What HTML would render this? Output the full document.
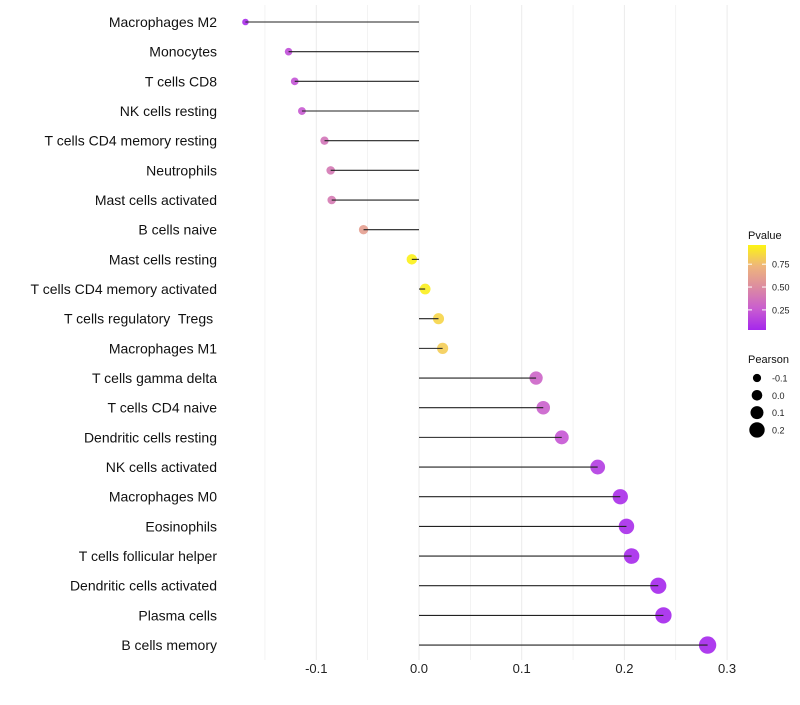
<!DOCTYPE html>
<html><head><meta charset="utf-8"><style>
body{margin:0;background:#fff;font-family:"Liberation Sans",sans-serif}
text{white-space:pre}
</style></head><body>
<svg id="chart" width="800" height="700" xmlns="http://www.w3.org/2000/svg"></svg>
<script>
const categories=["Macrophages M2","Monocytes","T cells CD8","NK cells resting","T cells CD4 memory resting","Neutrophils","Mast cells activated","B cells naive","Mast cells resting","T cells CD4 memory activated","T cells regulatory  Tregs ","Macrophages M1","T cells gamma delta","T cells CD4 naive","Dendritic cells resting","NK cells activated","Macrophages M0","Eosinophils","T cells follicular helper","Dendritic cells activated","Plasma cells","B cells memory"];
const pearson=[-0.169,-0.127,-0.121,-0.114,-0.092,-0.086,-0.085,-0.054,-0.007,0.006,0.019,0.023,0.114,0.121,0.139,0.174,0.196,0.202,0.207,0.233,0.238,0.281];
const pvalue=[0.05,0.2,0.22,0.25,0.38,0.4,0.41,0.6,0.95,0.94,0.85,0.82,0.3,0.28,0.23,0.12,0.06,0.05,0.04,0.03,0.03,0.03];
const xTicks=[-0.1,0,0.1,0.2,0.3];
const xTickLabels=["-0.1","0.0","0.1","0.2","0.3"];
const legendP=[0.75,0.5,0.25];
const legendSizes=[-0.1,0,0.1,0.2];

const NS="http://www.w3.org/2000/svg";
const svg=document.getElementById('chart');
const x=v=>419+v*1027;
const y=i=>22+i*29.67;
const r=v=>Math.max(2,5.3+12*v);
function lerp(a,b,t){return a.map((c,k)=>Math.round(c+(b[k]-c)*t));}
function col(p){
  const stops=[[0,[160,32,240]],[0.25,[200,90,210]],[0.5,[220,140,160]],[0.75,[240,185,120]],[1,[255,255,0]]];
  for(let k=1;k<stops.length;k++){if(p<=stops[k][0]){const t=(p-stops[k-1][0])/(stops[k][0]-stops[k-1][0]);return 'rgb('+lerp(stops[k-1][1],stops[k][1],t).join(',')+')';}}
  return 'rgb(255,255,0)';
}
function el(tag,attrs,parent){const e=document.createElementNS(NS,tag);for(const k in attrs)e.setAttribute(k,attrs[k]);(parent||svg).appendChild(e);return e;}

for(let v=-0.15;v<=0.301;v+=0.05){
  const g=el('line',{x1:x(v),x2:x(v),y1:5,y2:660,stroke:'#ebebeb','stroke-width':Math.abs(Math.round(v*100)%10)<1?1:0.6});
  
  
}
xTicks.forEach((v,i)=>{
  const t=el('text',{x:x(v),y:673,'text-anchor':'middle','font-size':13,fill:'#222'});
  t.textContent=xTickLabels[i];
  
  
});
categories.forEach((c,i)=>{
  const t=el('text',{x:217,y:y(i)+5,'text-anchor':'end','font-size':14,fill:'#111'});
  t.textContent=c;
  
  
  const d=el('circle',{cx:x(pearson[i]),cy:y(i),r:r(pearson[i]),fill:col(pvalue[i]),'fill-opacity':0.9});
  
  
  const s=el('line',{x1:x(0),x2:x(pearson[i]),y1:y(i),y2:y(i),stroke:'#222','stroke-width':1.1});
  
  
});
const lt=el('text',{x:748,y:239,'font-size':11,fill:'#111'});lt.textContent='Pvalue';


const defs=el('defs',{});
const lg=el('linearGradient',{id:'pg',x1:0,y1:1,x2:0,y2:0},defs);
[0,0.25,0.5,0.75,1].forEach(o=>el('stop',{offset:o,'stop-color':col(0.03+o*0.93)},lg));
const bar=el('rect',{x:748,y:245,width:18,height:85,fill:'url(#pg)'});


legendP.forEach(p=>{
  const yy=330-(p-0.03)/0.93*85;
  el('line',{x1:748,x2:752,y1:yy,y2:yy,stroke:'#fff'});
  el('line',{x1:762,x2:766,y1:yy,y2:yy,stroke:'#fff'});
  const t=el('text',{x:772,y:yy+3.5,'font-size':9,fill:'#222'});t.textContent=p.toFixed(2);
  
  
});
const st=el('text',{x:748,y:363,'font-size':11,fill:'#111'});st.textContent='Pearson';


legendSizes.forEach((v,i)=>{
  const yy=378+i*17.3;
  const c=el('circle',{cx:757,cy:yy,r:r(v),fill:'#000'});
  
  
  const t=el('text',{x:772,y:yy+3.5,'font-size':9,fill:'#222'});t.textContent=v.toFixed(1);
  
  
});
</script>
</body></html>
